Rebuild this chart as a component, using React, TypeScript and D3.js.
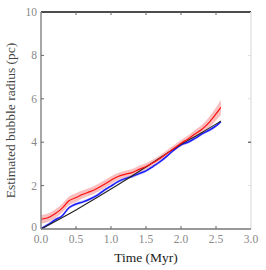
import React, { useEffect, useRef } from 'react';
import * as d3 from 'd3';

const times = [0, 0.1, 0.2, 0.3, 0.4, 0.5, 0.6, 0.7, 0.8, 0.9, 1.0, 1.1, 1.2, 1.3, 1.4, 1.5, 1.6, 1.7, 1.8, 1.9, 2.0, 2.1, 2.2, 2.3, 2.4, 2.5, 2.57];
const redMean = [0.45, 0.52, 0.7, 0.95, 1.3, 1.45, 1.6, 1.72, 1.87, 2.05, 2.25, 2.42, 2.52, 2.6, 2.75, 2.88, 3.05, 3.25, 3.48, 3.72, 3.95, 4.15, 4.38, 4.6, 4.9, 5.3, 5.6];
const redSpread = [0.2, 0.2, 0.2, 0.2, 0.2, 0.2, 0.18, 0.18, 0.18, 0.18, 0.18, 0.16, 0.16, 0.16, 0.16, 0.15, 0.15, 0.15, 0.15, 0.15, 0.15, 0.16, 0.18, 0.2, 0.25, 0.3, 0.35];
const blueMean = [0.02, 0.2, 0.42, 0.6, 0.98, 1.15, 1.25, 1.38, 1.55, 1.78, 1.98, 2.18, 2.32, 2.42, 2.55, 2.68, 2.88, 3.1, 3.36, 3.65, 3.88, 4.0, 4.18, 4.38, 4.55, 4.75, 4.95];
const fitTimes = [0, 0.5, 1.0, 1.5, 2.0, 2.3, 2.57];
const fitRadius = [0, 0.88, 1.84, 2.86, 3.9, 4.45, 4.97];
const xTicks = [0, 0.5, 1.0, 1.5, 2.0, 2.5, 3.0];
const yTicks = [0, 2, 4, 6, 8, 10];

const App = () => {
  const ref = useRef<SVGSVGElement>(null);

  useEffect(() => {
    const svg = d3.select(ref.current);
    svg.selectAll('*').remove();

    const width = 266;
    const height = 270;
    const margin = { top: 12, right: 15, bottom: 41, left: 41 };
    const font = '"Liberation Serif", "DejaVu Serif", serif';

    const x = d3.scaleLinear().domain([0, 3]).range([margin.left, width - margin.right]);
    const y = d3.scaleLinear().domain([0, 10]).range([height - margin.bottom, margin.top]);

    const curve = d3.curveMonotoneX;

    // red band + line
    const band = d3.area<number>()
      .x((_, i) => x(times[i]))
      .y0((d, i) => y(d - redSpread[i]))
      .y1((d, i) => y(d + redSpread[i]))
      .curve(curve);
    svg.append('path').attr('d', band(redMean)).attr('fill', '#f48a8a').attr('opacity', 0.55);

    const blueBand = d3.area<number>()
      .x((_, i) => x(times[i]))
      .y0(d => y(d - 0.07))
      .y1(d => y(d + 0.07))
      .curve(curve);
    svg.append('path').attr('d', blueBand(blueMean)).attr('fill', '#9aa0f0').attr('opacity', 0.5);

    const line = (xs: number[]) => d3.line<number>()
      .x((_, i) => x(xs[i]))
      .y(d => y(d))
      .curve(curve);

    svg.append('path').attr('d', line(times)(blueMean))
      .attr('fill', 'none').attr('stroke', '#1a1aff').attr('stroke-width', 1.5);
    svg.append('path').attr('d', line(fitTimes)(fitRadius))
      .attr('fill', 'none').attr('stroke', '#222').attr('stroke-width', 1.1);
    svg.append('path').attr('d', line(times)(redMean))
      .attr('fill', 'none').attr('stroke', '#ff1010').attr('stroke-width', 1.2);

    // frame
    const [x0, x1] = x.range();
    const [yb, yt] = y.range();
    svg.append('line').attr('x1', x0).attr('x2', x1).attr('y1', yt).attr('y2', yt)
      .attr('stroke', '#111').attr('stroke-width', 1.5);
    svg.append('line').attr('x1', x1).attr('x2', x1).attr('y1', yt).attr('y2', yb)
      .attr('stroke', '#e4e4e4').attr('stroke-width', 1.5);
    svg.append('line').attr('x1', x0).attr('x2', x1).attr('y1', yb).attr('y2', yb)
      .attr('stroke', '#777').attr('stroke-width', 1.5);
    svg.append('line').attr('x1', x0).attr('x2', x0).attr('y1', yt).attr('y2', yb)
      .attr('stroke', '#888').attr('stroke-width', 1.5);

    // inward ticks
    const tk = 3;
    xTicks.slice(1, -1).forEach(t => {
      svg.append('line').attr('x1', x(t)).attr('x2', x(t)).attr('y1', yb).attr('y2', yb - tk)
        .attr('stroke', '#666').attr('stroke-width', 1);
      svg.append('line').attr('x1', x(t)).attr('x2', x(t)).attr('y1', yt).attr('y2', yt + tk)
        .attr('stroke', '#666').attr('stroke-width', 1);
    });
    yTicks.slice(1, -1).forEach(t => {
      svg.append('line').attr('x1', x0).attr('x2', x0 + tk).attr('y1', y(t)).attr('y2', y(t))
        .attr('stroke', '#666').attr('stroke-width', 1);
      svg.append('line').attr('x1', x1).attr('x2', x1 - tk).attr('y1', y(t)).attr('y2', y(t))
        .attr('stroke', t === 4 ? '#333' : '#ddd').attr('stroke-width', 1);
    });

    // tick labels
    svg.append('g').selectAll('text').data(xTicks).join('text')
      .attr('x', d => x(d)).attr('y', yb + 14)
      .attr('text-anchor', 'middle')
      .attr('font-family', font).attr('font-size', 11.5).attr('fill', '#888')
      .text(d => d3.format('.1f')(d));
    svg.append('g').selectAll('text').data(yTicks).join('text')
      .attr('x', x0 - 4).attr('y', d => y(d) + (d === 0 ? 2 : 4))
      .attr('text-anchor', 'end')
      .attr('font-family', font).attr('font-size', 11.5).attr('fill', '#888')
      .text(d => d);

    // axis titles
    svg.append('text').attr('x', (x0 + x1) / 2).attr('y', 262)
      .attr('text-anchor', 'middle').attr('font-family', font).attr('font-size', 13.5)
      .attr('fill', '#222').text('Time (Myr)');
    svg.append('text')
      .attr('transform', `translate(15,${(yt + yb) / 2}) rotate(-90)`)
      .attr('text-anchor', 'middle').attr('font-family', font).attr('font-size', 13.5)
      .attr('fill', '#444').text('Estimated bubble radius (pc)');
  }, []);

  return <svg ref={ref} width={266} height={270} style={{ position: 'absolute', left: 0, top: 0 }}></svg>;
};

export default App;
